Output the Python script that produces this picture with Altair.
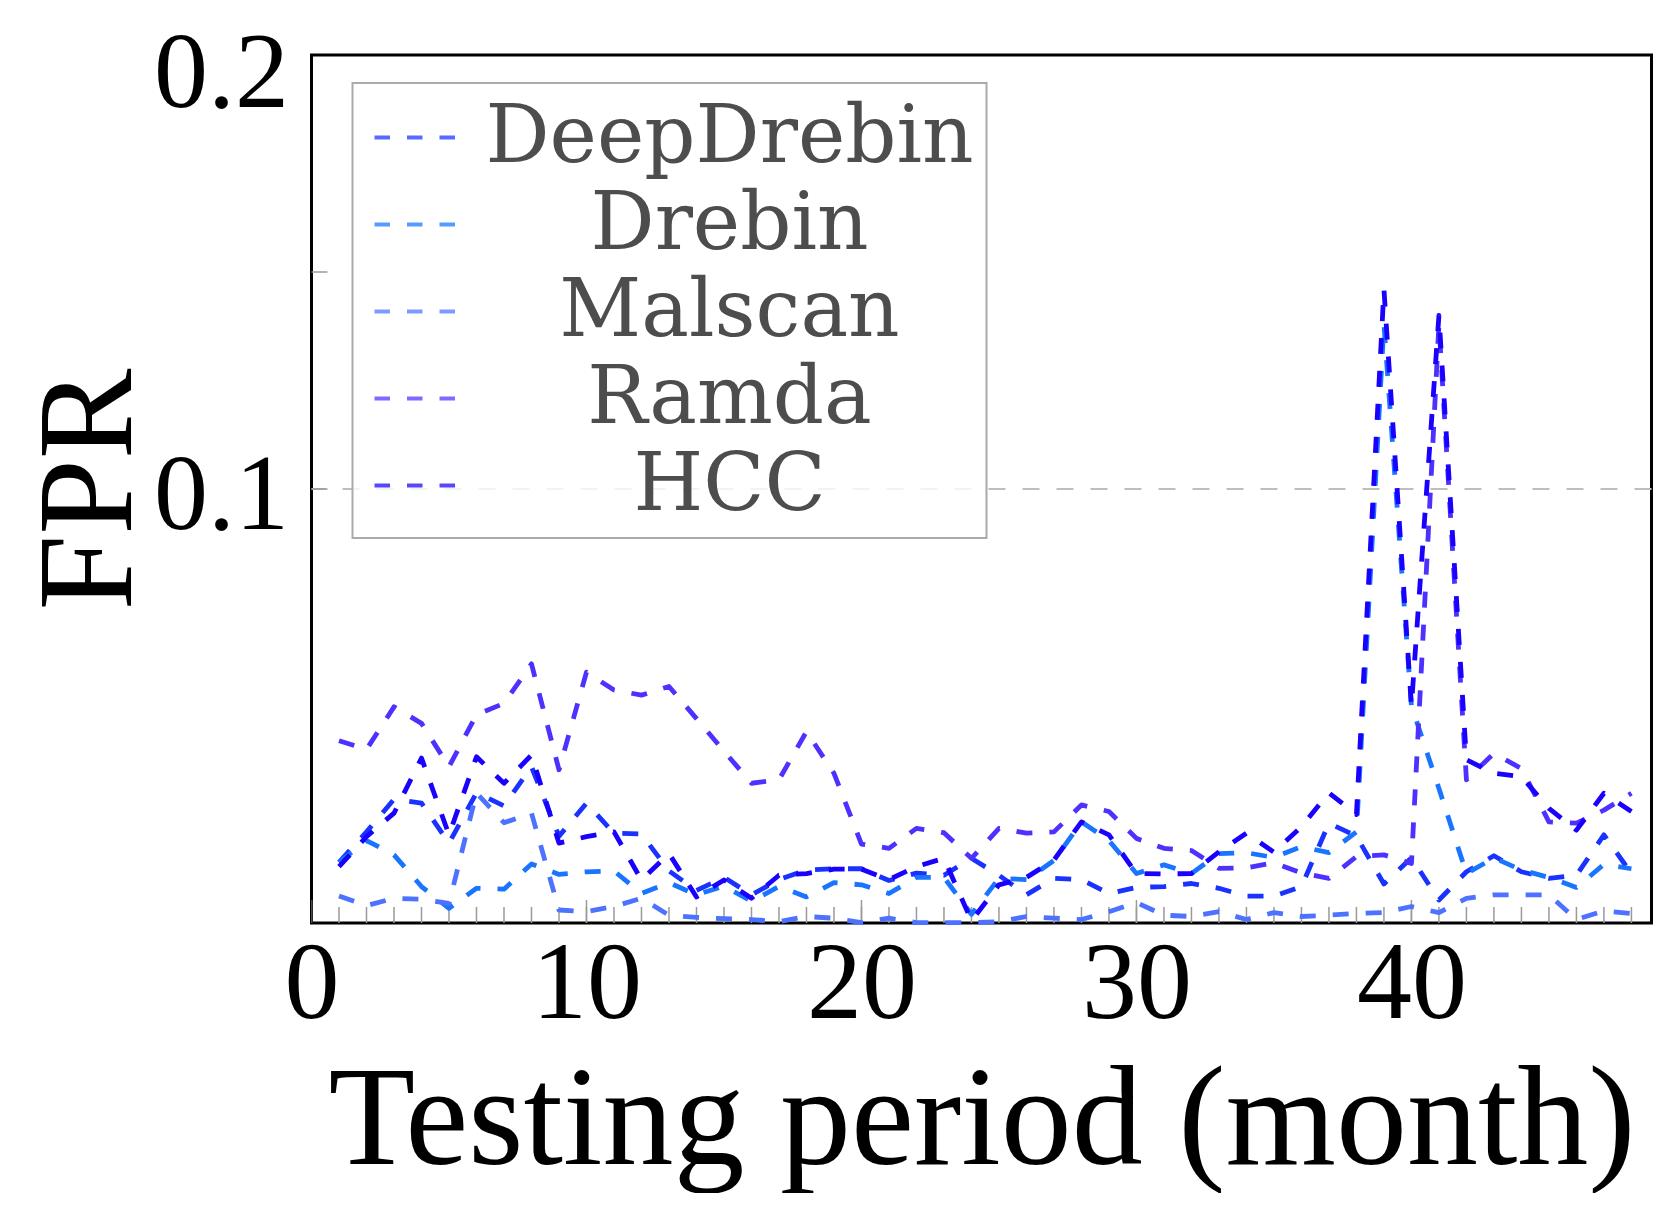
import altair as alt
import pandas as pd

# ---------------- data ----------------
months = list(range(1, 49))
methods = ["DeepDrebin", "Drebin", "Malscan", "Ramda", "HCC"]
colors = ["#1932ff", "#1975ff", "#4d72ff", "#4d32ff", "#1900ff"]

deepdrebin = [0.014, 0.021, 0.0285, 0.0276, 0.0184, 0.030, 0.027, 0.036, 0.020, 0.0276,
              0.0207, 0.0205, 0.012, 0.0075, 0.0105, 0.0065, 0.010, 0.0122, 0.0125, 0.0125,
              0.0098, 0.0115, 0.011, 0.0149, 0.011, 0.0065, 0.0103, 0.010, 0.0068, 0.0082,
              0.0084, 0.0091, 0.008, 0.0062, 0.0062, 0.0084, 0.023, 0.020, 0.009, 0.015,
              0.0053, 0.0118, 0.0155, 0.0118, 0.0103, 0.011, 0.0203, 0.0114]
drebin = [0.014, 0.019, 0.0157, 0.0084, 0.0034, 0.008, 0.0078, 0.0136, 0.0112, 0.0118,
          0.012, 0.0068, 0.0093, 0.0065, 0.0085, 0.005, 0.0084, 0.006, 0.0093, 0.0088,
          0.0068, 0.0105, 0.0105, 0.002, 0.0103, 0.010, 0.0144, 0.0233, 0.019, 0.0114,
          0.0134, 0.0114, 0.016, 0.0162, 0.0151, 0.0176, 0.0162, 0.021, 0.138, 0.050,
          0.031, 0.0114, 0.015, 0.0122, 0.0105, 0.0082, 0.0135, 0.0125]
malscan = [0.0062, 0.0040, 0.0057, 0.0055, 0.0045, 0.030, 0.0231, 0.0253, 0.003, 0.0026,
           0.0038, 0.0057, 0.0018, 0.0013, 0.001, 0.0008, 0.0003, 0.0015, 0.0011, 0.0001,
           0.0011, 0.0001, 0.0001, 0.0001, 0.0003, 0.0015, 0.0011, 0.0008, 0.0026, 0.0047,
           0.0018, 0.0015, 0.0026, 0.0008, 0.0024, 0.0015, 0.0018, 0.0022, 0.0024, 0.0038,
           0.0024, 0.0057, 0.0065, 0.0065, 0.0065, 0.0008, 0.0028, 0.0022]
ramda = [0.042, 0.040, 0.0498, 0.046, 0.036, 0.048, 0.0506, 0.0597, 0.0353, 0.0578,
         0.0537, 0.0525, 0.0545, 0.0471, 0.0396, 0.0322, 0.033, 0.0441, 0.0345, 0.0182,
         0.0172, 0.0218, 0.0208, 0.0149, 0.0218, 0.0207, 0.021, 0.0272, 0.0257, 0.0195,
         0.0172, 0.0167, 0.0126, 0.0127, 0.0139, 0.0115, 0.0103, 0.0153, 0.0157, 0.0137,
         0.138, 0.033, 0.0391, 0.0356, 0.0233, 0.023, 0.026, 0.0299]
hcc = [0.013, 0.0199, 0.0253, 0.038, 0.0203, 0.0383, 0.0322, 0.0387, 0.0184, 0.0199,
       0.021, 0.0099, 0.016, 0.006, 0.0099, 0.0057, 0.011, 0.0114, 0.0124, 0.0124,
       0.010, 0.013, 0.0149, 0.0005, 0.0088, 0.0105, 0.0145, 0.0233, 0.0203, 0.0114,
       0.0113, 0.0114, 0.0164, 0.0207, 0.0163, 0.0222, 0.030, 0.025, 0.146, 0.050,
       0.140, 0.0376, 0.0345, 0.0337, 0.0264, 0.0214, 0.0299, 0.0257]

x_label_values = [0, 10, 20, 30, 40]
y_label_low = [0.1]
y_label_top = [0.2]
y_tick_values = [0.1, 0.15]
grid_values = [0.1]
x_domain = [0, 48.73]
y_domain = [0, 0.2]

# ---------------- tables ----------------
series = [deepdrebin, drebin, malscan, ramda, hcc]
df = pd.DataFrame({
    "month": months * len(methods),
    "method": [m for m in methods for _ in months],
    "fpr": [v for s in series for v in s],
})
minor_df = pd.DataFrame({"month": months, "fpr": [0] * len(months)})
major_df = pd.DataFrame({"month": x_label_values, "fpr": [0] * len(x_label_values)})
ytick_df = pd.DataFrame({"fpr": y_tick_values, "month": [0] * len(y_tick_values)})
grid_df = pd.DataFrame({"fpr": grid_values})

FONT = "Liberation Serif"
x_scale = alt.Scale(domain=x_domain, nice=False, zero=False)
y_scale = alt.Scale(domain=y_domain, nice=False)
color_scale = alt.Scale(domain=methods, range=colors)

x_axis = alt.Axis(
    values=x_label_values, format="d", title="Testing period (month)",
    grid=False, ticks=False, domain=False,
    labelFont=FONT, labelFontSize=110, labelColor="black", labelPadding=7,
    labelFlush=False, labelOverlap=False,
    titleFont=FONT, titleFontSize=142, titleFontWeight="normal", titleColor="black",
    titleX=670, titleY=240, titleAlign="center", titleBaseline="alphabetic",
)
y_axis_main = alt.Axis(
    orient="left", values=y_label_low, format=".1f", title="FPR",
    grid=False, ticks=False, domain=False,
    labelFont=FONT, labelFontSize=108, labelColor="black", labelPadding=23,
    labelBaseline="middle", labelOffset=7, labelFlush=False, labelOverlap=False,
    titleFont=FONT, titleFontSize=136, titleFontWeight="normal", titleColor="black",
    titleAngle=270, titleX=-181, titleY=434, titleAlign="center",
    titleBaseline="alphabetic",
)
y_axis_top = alt.Axis(
    orient="left", values=y_label_top, format=".1f", title=None,
    grid=False, ticks=False, domain=False,
    labelFont=FONT, labelFontSize=108, labelColor="black", labelPadding=23,
    labelBaseline="middle", labelOffset=19, labelFlush=False, labelOverlap=False,
)
legend = alt.Legend(
    title=None, orient="none", legendX=41, legendY=28,
    padding=12, rowPadding=4, symbolOffset=8,
    fillColor="rgba(255,255,255,0.8)", strokeColor="#aaaaaa",
    symbolType="stroke", symbolSize=6561, symbolStrokeWidth=4,
    symbolDash=[15.5, 17], symbolOpacity=0.72,
    labelFont="DejaVu Serif", labelFontSize=80, labelColor="#4d4d4d",
    labelAlign="center", labelOffset=272, labelLimit=2000,
)

X = alt.X("month:Q", scale=x_scale, axis=x_axis)
Y_main = alt.Y("fpr:Q", scale=y_scale, axis=y_axis_main)
Y_top = alt.Y("fpr:Q", scale=y_scale, axis=y_axis_top)
Y_none = alt.Y("fpr:Q", scale=y_scale, axis=None)

grid = alt.Chart(grid_df).mark_rule(
    color="#bdbdbd", strokeWidth=2, strokeDash=[17, 17]
).encode(y=Y_none)

minor_ticks = alt.Chart(minor_df).mark_tick(
    orient="vertical", size=32, thickness=1.5, color="#9a9a9a", clip=True, opacity=1
).encode(x=X, y=Y_none)
major_ticks = alt.Chart(major_df).mark_tick(
    orient="vertical", size=46, thickness=1.5, color="#9a9a9a", clip=True, opacity=1
).encode(x=X, y=Y_none)
y_ticks = alt.Chart(ytick_df).mark_tick(
    orient="horizontal", size=32, thickness=1.5, color="#9a9a9a", clip=True, opacity=1
).encode(x=X, y=Y_top)

line_layers = []
for i, m in enumerate(methods):
    line_layers.append(
        alt.Chart(df).transform_filter(alt.datum.method == m).mark_line(
            strokeWidth=4.8, strokeDash=[16, 17], strokeJoin="round", opacity=1
        ).encode(
            x=X, y=(Y_main if i == 0 else Y_none),
            color=alt.Color("method:N", scale=color_scale, legend=legend),
        )
    )

chart = alt.layer(grid, minor_ticks, major_ticks, y_ticks, *line_layers).resolve_axis(
    y="independent"
).properties(
    width=1340, height=868,
    autosize=alt.AutoSizeParams(type="none"),
    padding={"left": 303.5, "top": 47, "right": 1.5, "bottom": 270},
    background="white",
).configure_view(
    stroke="black", strokeWidth=3
).configure_legend(
    strokeWidth=2
)

chart.save("out.html", embed_options={"renderer": "svg", "actions": False})
